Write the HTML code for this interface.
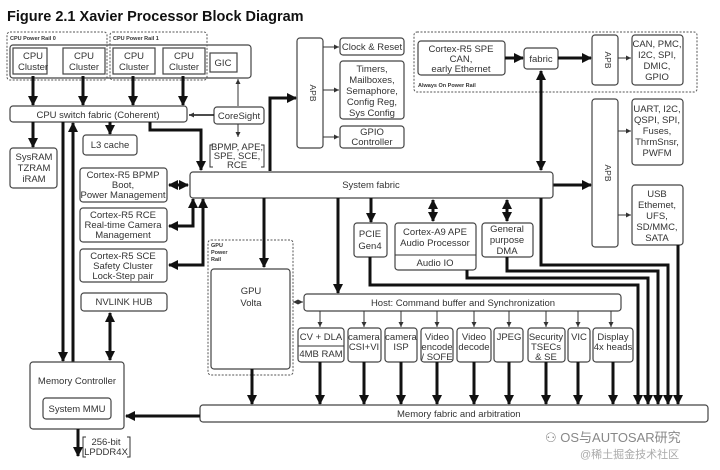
<!DOCTYPE html>
<html><head><meta charset="utf-8"><style>
html,body{margin:0;padding:0;background:#fff;}
svg{display:block;}
text{font-family:"Liberation Sans","Noto Sans CJK SC",sans-serif;fill:#333;font-size:9.5px;}
.b{fill:#fff;stroke:#444;stroke-width:1.2;}
.d{fill:none;stroke:#555;stroke-width:1;stroke-dasharray:2,1.5;}
.t{fill:none;stroke:#111;stroke-width:3;}
.n{fill:none;stroke:#333;stroke-width:1;}
.s{font-size:5.5px;font-weight:bold;}
</style></head><body>
<svg width="720" height="470" viewBox="0 0 720 470" xmlns="http://www.w3.org/2000/svg">
<defs>
<marker id="A" markerUnits="userSpaceOnUse" markerWidth="10" markerHeight="10" refX="9" refY="5" orient="auto"><path d="M0,0L10,5L0,10z" fill="#111"/></marker>
<marker id="As" markerUnits="userSpaceOnUse" markerWidth="10" markerHeight="10" refX="1" refY="5" orient="auto"><path d="M10,0L0,5L10,10z" fill="#111"/></marker>
<marker id="a" markerUnits="userSpaceOnUse" markerWidth="5" markerHeight="5" refX="5" refY="2.5" orient="auto"><path d="M0,0L5,2.5L0,5z" fill="#333"/></marker>
<marker id="as" markerUnits="userSpaceOnUse" markerWidth="5" markerHeight="5" refX="0" refY="2.5" orient="auto"><path d="M5,0L0,2.5L5,5z" fill="#333"/></marker>
</defs>
<text x="7" y="21" style="font-size:14.5px;font-weight:bold;fill:#111">Figure 2.1 Xavier Processor Block Diagram</text>

<!-- CPU rails -->
<rect class="b" x="10" y="45" width="241" height="33" rx="3"/>
<rect class="d" x="7" y="32" width="100" height="48" rx="3"/>
<rect class="d" x="110" y="32" width="97" height="48" rx="3"/>
<text class="s" x="10" y="40">CPU Power Rail 0</text>
<text class="s" x="113" y="40">CPU Power Rail 1</text>
<rect class="b" x="13" y="48" width="34" height="26"/>
<rect class="b" x="63" y="48" width="42" height="26"/>
<rect class="b" x="113" y="48" width="42" height="26"/>
<rect class="b" x="163" y="48" width="42" height="26"/>
<rect class="b" x="210" y="53" width="27" height="19"/>
<g text-anchor="middle">
<text x="33" y="59">CPU</text><text x="33" y="70">Cluster</text>
<text x="84" y="59">CPU</text><text x="84" y="70">Cluster</text>
<text x="134" y="59">CPU</text><text x="134" y="70">Cluster</text>
<text x="184" y="59">CPU</text><text x="184" y="70">Cluster</text>
<text x="223" y="66">GIC</text>
</g>
<line class="t" x1="33" y1="76" x2="33" y2="105" marker-end="url(#A)"/>
<line class="t" x1="83" y1="76" x2="83" y2="105" marker-end="url(#A)"/>
<line class="t" x1="133" y1="76" x2="133" y2="105" marker-end="url(#A)"/>
<line class="t" x1="183" y1="76" x2="183" y2="105" marker-end="url(#A)"/>

<rect class="b" x="10" y="106" width="177" height="16" rx="3"/>
<text x="98" y="118" text-anchor="middle">CPU switch fabric (Coherent)</text>
<rect class="b" x="214" y="107" width="50" height="17" rx="3"/>
<text x="239" y="119" text-anchor="middle">CoreSight</text>
<line x1="214" y1="115" x2="189" y2="115" stroke="#111" stroke-width="1.5" marker-end="url(#a)"/>
<line class="n" x1="238" y1="106" x2="238" y2="79" marker-end="url(#a)"/>
<line class="n" x1="238" y1="124" x2="238" y2="137" marker-end="url(#a)"/>
<path class="n" d="M213,145h-3v22h3M261,145h3v22h-3"/>
<g text-anchor="middle" style="font-size:8.5px"><text x="237" y="150">BPMP, APE,</text><text x="237" y="159">SPE, SCE,</text><text x="237" y="168">RCE</text></g>

<rect class="b" x="83" y="135" width="54" height="20" rx="3"/>
<text x="110" y="148" text-anchor="middle">L3 cache</text>
<line class="t" x1="110" y1="122" x2="110" y2="134" marker-end="url(#A)"/>
<rect class="b" x="10" y="148" width="47" height="40" rx="3"/>
<g text-anchor="middle"><text x="34" y="160">SysRAM</text><text x="34" y="171">TZRAM</text><text x="34" y="182">iRAM</text></g>
<line class="t" x1="33" y1="122" x2="33" y2="147" marker-end="url(#A)"/>
<path class="t" d="M150,122V130H201V170" marker-end="url(#A)"/>
<line class="t" x1="63" y1="122" x2="63" y2="361" marker-end="url(#A)"/>
<line class="t" x1="73" y1="362" x2="73" y2="123" marker-end="url(#A)"/>

<!-- R5 boxes -->
<rect class="b" x="80" y="168" width="87" height="34" rx="3"/>
<g text-anchor="middle"><text x="123" y="178">Cortex-R5 BPMP</text><text x="123" y="188">Boot,</text><text x="123" y="198">Power Management</text></g>
<line class="t" x1="169" y1="185" x2="188" y2="185" marker-start="url(#As)" marker-end="url(#A)"/>
<rect class="b" x="80" y="208" width="87" height="34" rx="3"/>
<g text-anchor="middle"><text x="123" y="218">Cortex-R5 RCE</text><text x="123" y="228">Real-time Camera</text><text x="123" y="238">Management</text></g>
<path class="t" d="M169,226H193V199" marker-start="url(#As)" marker-end="url(#A)"/>
<rect class="b" x="80" y="249" width="87" height="33" rx="3"/>
<g text-anchor="middle"><text x="123" y="259">Cortex-R5 SCE</text><text x="123" y="269">Safety Cluster</text><text x="123" y="279">Lock-Step pair</text></g>
<path class="t" d="M169,265H203V199" marker-start="url(#As)" marker-end="url(#A)"/>
<rect class="b" x="81" y="293" width="86" height="18" rx="3"/>
<text x="124" y="305" text-anchor="middle">NVLINK HUB</text>
<line class="t" x1="110" y1="313" x2="110" y2="360" marker-start="url(#As)" marker-end="url(#A)"/>

<rect class="b" x="30" y="362" width="94" height="67" rx="3"/>
<text x="77" y="384" text-anchor="middle">Memory Controller</text>
<rect class="b" x="43" y="398" width="68" height="21" rx="3"/>
<text x="77" y="412" text-anchor="middle">System MMU</text>
<line class="t" x1="78" y1="429" x2="78" y2="456" marker-end="url(#A)"/>
<path class="n" d="M86,437h-3v20h3M127,437h3v20h-3"/>
<g text-anchor="middle"><text x="106" y="445">256-bit</text><text x="106" y="455">LPDDR4X</text></g>

<!-- APB left -->
<rect class="b" x="297" y="38" width="26" height="110" rx="3"/>
<text x="310" y="93" text-anchor="middle" transform="rotate(90 310 93)" style="font-size:8.5px">APB</text>
<path class="t" d="M270,171V98H296" marker-end="url(#A)"/>
<rect class="b" x="340" y="38" width="64" height="17" rx="3"/>
<text x="372" y="50" text-anchor="middle">Clock &amp; Reset</text>
<rect class="b" x="340" y="61" width="64" height="58" rx="3"/>
<g text-anchor="middle"><text x="372" y="72">Timers,</text><text x="372" y="83">Mailboxes,</text><text x="372" y="94">Semaphore,</text><text x="372" y="105">Config Reg,</text><text x="372" y="116">Sys Config</text></g>
<rect class="b" x="340" y="126" width="64" height="22" rx="3"/>
<g text-anchor="middle"><text x="372" y="135">GPIO</text><text x="372" y="145">Controller</text></g>
<line class="n" x1="323" y1="47" x2="339" y2="47" marker-end="url(#a)"/>
<line class="n" x1="323" y1="90" x2="339" y2="90" marker-end="url(#a)"/>
<line class="n" x1="323" y1="137" x2="339" y2="137" marker-end="url(#a)"/>

<!-- always on -->
<rect class="d" x="414" y="32" width="283" height="60" rx="3"/>
<text class="s" x="418" y="87">Always On Power Rail</text>
<rect class="b" x="418" y="41" width="87" height="34" rx="3"/>
<g text-anchor="middle"><text x="461" y="52">Cortex-R5 SPE</text><text x="461" y="62">CAN,</text><text x="461" y="72">early Ethernet</text></g>
<line class="t" x1="505" y1="58" x2="523" y2="58" marker-end="url(#A)"/>
<rect class="b" x="524" y="48" width="34" height="21" rx="3"/>
<text x="541" y="62" text-anchor="middle">fabric</text>
<line class="t" x1="558" y1="58" x2="591" y2="58" marker-end="url(#A)"/>
<rect class="b" x="592" y="35" width="26" height="50" rx="3"/>
<text x="605" y="60" text-anchor="middle" transform="rotate(90 605 60)" style="font-size:8.5px">APB</text>
<line class="n" x1="618" y1="58" x2="631" y2="58" marker-end="url(#a)"/>
<rect class="b" x="632" y="35" width="51" height="50" rx="3"/>
<g text-anchor="middle"><text x="657" y="47">CAN, PMC,</text><text x="657" y="58">I2C, SPI,</text><text x="657" y="69">DMIC,</text><text x="657" y="80">GPIO</text></g>
<line class="t" x1="541" y1="71" x2="541" y2="170" marker-start="url(#As)" marker-end="url(#A)"/>

<!-- right APB -->
<rect class="b" x="592" y="99" width="26" height="148" rx="3"/>
<text x="605" y="173" text-anchor="middle" transform="rotate(90 605 173)" style="font-size:8.5px">APB</text>
<rect class="b" x="632" y="99" width="51" height="66" rx="3"/>
<g text-anchor="middle"><text x="657" y="112">UART, I2C,</text><text x="657" y="123">QSPI, SPI,</text><text x="657" y="134">Fuses,</text><text x="657" y="145">ThrmSnsr,</text><text x="657" y="156">PWFM</text></g>
<rect class="b" x="632" y="185" width="51" height="60" rx="3"/>
<g text-anchor="middle"><text x="657" y="197">USB</text><text x="657" y="208">Ethemet,</text><text x="657" y="219">UFS,</text><text x="657" y="230">SD/MMC,</text><text x="657" y="241">SATA</text></g>
<line class="n" x1="618" y1="131" x2="631" y2="131" marker-end="url(#a)"/>
<line class="n" x1="618" y1="215" x2="631" y2="215" marker-end="url(#a)"/>
<line class="t" x1="553" y1="185" x2="591" y2="185" marker-end="url(#A)"/>

<!-- system fabric -->
<rect class="b" x="190" y="172" width="363" height="26" rx="3"/>
<text x="371" y="188" text-anchor="middle">System fabric</text>

<rect class="b" x="354" y="223" width="33" height="34" rx="3"/>
<g text-anchor="middle"><text x="370" y="237">PCIE</text><text x="370" y="249">Gen4</text></g>
<line class="t" x1="371" y1="198" x2="371" y2="222" marker-end="url(#A)"/>
<rect class="b" x="395" y="223" width="81" height="47" rx="3"/>
<line class="n" x1="395" y1="255" x2="476" y2="255"/>
<g text-anchor="middle"><text x="435" y="235">Cortex-A9 APE</text><text x="435" y="246">Audio Processor</text><text x="435" y="266">Audio IO</text></g>
<line class="t" x1="433" y1="200" x2="433" y2="221" marker-start="url(#As)" marker-end="url(#A)"/>
<rect class="b" x="482" y="223" width="51" height="34" rx="3"/>
<g text-anchor="middle"><text x="507" y="232">General</text><text x="507" y="243">purpose</text><text x="507" y="254">DMA</text></g>
<line class="t" x1="507" y1="200" x2="507" y2="221" marker-start="url(#As)" marker-end="url(#A)"/>

<!-- routes to memory fabric -->
<path class="t" d="M370,257V285H638V404" marker-end="url(#A)"/>
<path class="t" d="M467,270V278H648V404" marker-end="url(#A)"/>
<path class="t" d="M507,257V271H658V404" marker-end="url(#A)"/>
<path class="t" d="M541,198V265H668V404" marker-end="url(#A)"/>
<path class="t" d="M678,245V404" marker-end="url(#A)"/>

<!-- GPU -->
<rect class="d" x="208" y="240" width="85" height="135" rx="3"/>
<text class="s" x="211" y="247">GPU</text><text class="s" x="211" y="254">Power</text><text class="s" x="211" y="261">Rail</text>
<rect class="b" x="211" y="269" width="79" height="100" rx="3"/>
<g text-anchor="middle"><text x="251" y="294">GPU</text><text x="251" y="306">Volta</text></g>
<line class="t" x1="264" y1="198" x2="264" y2="267" marker-end="url(#A)"/>
<line class="t" x1="252" y1="369" x2="252" y2="404" marker-end="url(#A)"/>
<line x1="293" y1="302" x2="303" y2="302" stroke="#333" stroke-width="1" stroke-dasharray="2,1" marker-start="url(#as)" marker-end="url(#a)"/>

<!-- host -->
<line class="t" x1="338" y1="198" x2="338" y2="293" marker-end="url(#A)"/>
<rect class="b" x="304" y="294" width="317" height="17" rx="3"/>
<text x="463" y="306" text-anchor="middle">Host: Command buffer and Synchronization</text>

<g>
<rect class="b" x="298" y="328" width="46" height="34" rx="3"/><line class="n" x1="298" y1="346" x2="344" y2="346"/>
<rect class="b" x="348" y="328" width="33" height="34" rx="3"/>
<rect class="b" x="385" y="328" width="32" height="34" rx="3"/>
<rect class="b" x="421" y="328" width="32" height="34" rx="3"/>
<rect class="b" x="457" y="328" width="34" height="34" rx="3"/>
<rect class="b" x="494" y="328" width="29" height="34" rx="3"/>
<rect class="b" x="528" y="328" width="37" height="34" rx="3"/>
<rect class="b" x="568" y="328" width="22" height="34" rx="3"/>
<rect class="b" x="593" y="328" width="40" height="34" rx="3"/>
</g>
<g text-anchor="middle" style="font-size:9px">
<text x="321" y="340">CV + DLA</text><text x="321" y="357">4MB RAM</text>
<text x="364" y="340">camera</text><text x="364" y="350">CSI+VI</text>
<text x="401" y="340">camera</text><text x="401" y="350">ISP</text>
<text x="437" y="340">Video</text><text x="437" y="350">encode</text><text x="437" y="360">/ SOFE</text>
<text x="474" y="340">Video</text><text x="474" y="350">decode</text>
<text x="509" y="340">JPEG</text>
<text x="546" y="340">Security</text><text x="546" y="350">TSECs</text><text x="546" y="360">&amp; SE</text>
<text x="579" y="340">VIC</text>
<text x="613" y="340">Display</text><text x="613" y="350">4x heads</text>
</g>
<g>
<line class="n" x1="320" y1="311" x2="320" y2="327" marker-end="url(#a)"/>
<line class="n" x1="364" y1="311" x2="364" y2="327" marker-end="url(#a)"/>
<line class="n" x1="401" y1="311" x2="401" y2="327" marker-end="url(#a)"/>
<line class="n" x1="437" y1="311" x2="437" y2="327" marker-end="url(#a)"/>
<line class="n" x1="474" y1="311" x2="474" y2="327" marker-end="url(#a)"/>
<line class="n" x1="509" y1="311" x2="509" y2="327" marker-end="url(#a)"/>
<line class="n" x1="546" y1="311" x2="546" y2="327" marker-end="url(#a)"/>
<line class="n" x1="578" y1="311" x2="578" y2="327" marker-end="url(#a)"/>
<line class="n" x1="611" y1="311" x2="611" y2="327" marker-end="url(#a)"/>
</g>
<g>
<line class="t" x1="320" y1="362" x2="320" y2="404" marker-end="url(#A)"/>
<line class="t" x1="364" y1="362" x2="364" y2="404" marker-end="url(#A)"/>
<line class="t" x1="401" y1="362" x2="401" y2="404" marker-end="url(#A)"/>
<line class="t" x1="437" y1="362" x2="437" y2="404" marker-end="url(#A)"/>
<line class="t" x1="474" y1="362" x2="474" y2="404" marker-end="url(#A)"/>
<line class="t" x1="509" y1="362" x2="509" y2="404" marker-end="url(#A)"/>
<line class="t" x1="546" y1="362" x2="546" y2="404" marker-end="url(#A)"/>
<line class="t" x1="578" y1="362" x2="578" y2="404" marker-end="url(#A)"/>
<line class="t" x1="613" y1="362" x2="613" y2="404" marker-end="url(#A)"/>
</g>

<!-- memory fabric -->
<rect class="b" x="200" y="405" width="508" height="17" rx="3"/>
<text x="397" y="417">Memory fabric and arbitration</text>
<line class="t" x1="200" y1="416" x2="126" y2="416" marker-end="url(#A)"/>

<!-- watermark -->
<text x="545" y="442" style="font-size:13px;fill:#888">⚇ OS与AUTOSAR研究</text>
<text x="580" y="458" style="font-size:11px;fill:#aaa">@稀土掘金技术社区</text>
</svg>
</body></html>
